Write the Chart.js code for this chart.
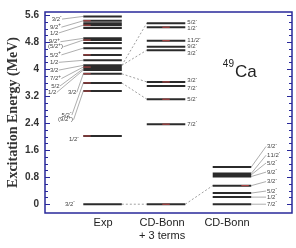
<!DOCTYPE html>
<html>
<head>
<meta charset="utf-8">
<script src="https://cdn.jsdelivr.net/npm/chart.js@4.4.1/dist/chart.umd.min.js"></script>
<style>html,body{margin:0;padding:0;background:#fff}</style>
</head>
<body>
<canvas id="nivelesChart" width="296" height="248"></canvas>
<script>
// Datos del esquema de niveles de 49Ca (MeV)
const columnas = ['Exp', ['CD-Bonn', '+ 3 terms'], 'CD-Bonn'];
const ticksY = [0, 0.8, 1.6, 2.4, 3.2, 4, 4.8, 5.6];

const expNiveles = [0, 2.02, 3.35, 3.59, 3.86, 3.97, 4.01, 4.06, 4.11, 4.26, 4.42, 4.62, 4.77, 4.86, 4.91, 5.22, 5.30, 5.36, 5.43, 5.56];
const expEtiquetas = ['3/2^-', '9/2^+', '1/2', '9/2^+', '(5/2^+)', '5/2^+', '1/2', '3/2', '7/2^+', '5/2', '1/2', '3/2', '5/2^-', '(9/2^+)', '1/2^-', '3/2^-'];
const expEtiquetaY = [5.48, 5.24, 5.07, 4.81, 4.66, 4.42, 4.20, 3.97, 3.72, 3.50, 3.31, 3.31, 2.64, 2.50, 1.92, 0];
const expDestino = [5.56, 5.43, 5.30, 4.91, 4.86, 4.62, 4.26, 4.11, 4.06, 4.01, 3.97, 3.86, 3.59, 3.35, null, null];
const expRojos = [2.02, 3.35, 3.59, 3.86, 4.06, 4.42, 4.86, 5.30, 5.43];

const cd3Niveles = [0, 2.37, 3.11, 3.50, 3.62, 4.56, 4.66, 4.84, 5.24, 5.36];
const cd3Etiquetas = ['', '7/2^-', '5/2^-', '7/2^-', '3/2^-', '3/2^-', '9/2^-', '11/2^-', '1/2^-', '5/2^-'];
const cd3EtiquetaY = [null, 2.37, 3.09, 3.43, 3.66, 4.47, 4.67, 4.84, 5.20, 5.37];
const cd3Rojos = [0, 2.37, 3.11, 3.62, 4.84, 5.24];

const cdNiveles = [0, 0.21, 0.33, 0.55, 0.82, 0.87, 0.91, 1.10];
const cdEtiquetas = ['7/2^-', '1/2^-', '5/2^-', '3/2^-', '9/2^-', '5/2^-', '11/2^-', '3/2^-'];
const cdEtiquetaY = [0, 0.21, 0.39, 0.67, 0.95, 1.22, 1.45, 1.71];
const cdRojos = [0.55];

// Conexiones punteadas [nivel origen, nivel destino]
const conexExpCd3 = [[0, 0], [4.11, 5.36], [4.11, 4.56], [3.86, 3.62], [3.59, 3.11]];
const conexCd3Cd = [[0, 0.55]];

// Geometría (unidades del eje x, 0..10)
const colCentro = [2.33, 4.90, 7.57];
const semiAncho = 0.78;
const posEtiquetasX = [2.35, 4.74, 7.37];
const expEtiquetaX = [0.27, 0.2, 0.2, 0.16, 0.12, 0.2, 0.2, 0.2, 0.2, 0.25, 0.12, 0.93, 0.67, 0.53, 0.97, 0.81];

const izq = i => colCentro[i] - semiAncho;
const der = i => colCentro[i] + semiAncho;

/**
 * Convierte una lista de segmentos [x1, y1, x2, y2] en datos con huecos.
 */
function segmentos(lista) {
  const out = [];
  lista.forEach(([x1, y1, x2, y2]) => {
    out.push({ x: x1, y: y1 }, { x: x2, y: y2 }, { x: x2, y: null });
  });
  return out;
}

const nivelesSeg = [
  ...expNiveles.map(e => [izq(0), e, der(0), e]),
  ...cd3Niveles.map(e => [izq(1), e, der(1), e]),
  ...cdNiveles.map(e => [izq(2), e, der(2), e])
];
const rojosSeg = [
  ...expRojos.map(e => [izq(0), e, izq(0) + 0.3, e]),
  ...cd3Rojos.map(e => [colCentro[1] - 0.15, e, colCentro[1] + 0.15, e]),
  ...cdRojos.map(e => [der(2) - 0.4, e, der(2) - 0.1, e])
];
const conexSeg = [
  ...conexExpCd3.map(([a, b]) => [der(0), a, izq(1), b]),
  ...conexCd3Cd.map(([a, b]) => [der(1), a, izq(2), b])
];

// Dibuja texto con superíndice (^ marca el siguiente carácter)
function dibujarEtiqueta(ctx, texto, px, py) {
  let cx = px;
  for (let i = 0; i < texto.length; i++) {
    if (texto[i] === '^') {
      i++;
      ctx.font = '4.5px "Liberation Sans", Arial, sans-serif';
      ctx.fillText(texto[i], cx, py - 2);
    } else {
      ctx.font = '6px "Liberation Sans", Arial, sans-serif';
      ctx.fillText(texto[i], cx, py);
    }
    cx += ctx.measureText(texto[i]).width;
  }
  return cx - px;
}

const anotaciones = {
  id: 'anotaciones',
  afterDraw(chart) {
    const { ctx, chartArea: a, scales: { x, y } } = chart;
    ctx.save();

    // Marco azul
    ctx.strokeStyle = '#28289a';
    ctx.lineWidth = 1.5;
    ctx.strokeRect(a.left, a.top, a.right - a.left, a.bottom - a.top);

    // Ticks hacia dentro (mayores cada 0.8, menores cada 0.2)
    ctx.lineWidth = 1;
    for (let i = 0; i <= 28; i++) {
      const py = Math.round(y.getPixelForValue(i * 0.2)) + 0.5;
      const largo = i % 4 === 0 ? 5 : 3;
      ctx.beginPath();
      ctx.moveTo(a.left, py); ctx.lineTo(a.left + largo, py);
      ctx.moveTo(a.right, py); ctx.lineTo(a.right - largo, py);
      ctx.stroke();
    }

    ctx.textBaseline = 'middle';
    ctx.textAlign = 'left';
    ctx.fillStyle = '#444';
    ctx.strokeStyle = '#777';
    ctx.lineWidth = 0.6;

    // Etiquetas experimentales con líneas guía
    expEtiquetas.forEach((t, i) => {
      const px = x.getPixelForValue(expEtiquetaX[i]);
      const py = y.getPixelForValue(expEtiquetaY[i]);
      const w = dibujarEtiqueta(ctx, t, px, py);
      if (expDestino[i] !== null) {
        ctx.beginPath();
        ctx.moveTo(px + w + 0.5, py);
        ctx.lineTo(x.getPixelForValue(izq(0)), y.getPixelForValue(expDestino[i]));
        ctx.stroke();
      }
    });

    // Etiquetas CD-Bonn + 3 terms
    cd3Etiquetas.forEach((t, i) => {
      if (!t) return;
      dibujarEtiqueta(ctx, t, x.getPixelForValue(der(1)) + 2, y.getPixelForValue(cd3EtiquetaY[i]));
    });

    // Etiquetas CD-Bonn con líneas guía
    cdEtiquetas.forEach((t, i) => {
      const px = x.getPixelForValue(8.99);
      const py = y.getPixelForValue(cdEtiquetaY[i]);
      dibujarEtiqueta(ctx, t, px, py);
      ctx.beginPath();
      ctx.moveTo(x.getPixelForValue(der(2)), y.getPixelForValue(cdNiveles[i]));
      ctx.lineTo(px - 1, py);
      ctx.stroke();
    });

    // Núcleo
    const nx = x.getPixelForValue(7.2);
    const ny = y.getPixelForValue(3.9);
    ctx.fillStyle = '#222';
    ctx.font = '10px "Liberation Sans", Arial, sans-serif';
    ctx.fillText('49', nx, ny - 8);
    const w49 = ctx.measureText('49').width;
    ctx.font = '17px "Liberation Sans", Arial, sans-serif';
    ctx.fillText('Ca', nx + w49 + 1, ny);

    ctx.restore();
  }
};

new Chart(document.getElementById('nivelesChart').getContext('2d'), {
  type: 'scatter',
  data: {
    datasets: [
      { data: segmentos(rojosSeg), showLine: true, borderColor: '#c04848', borderWidth: 1, pointRadius: 0, spanGaps: false },
      { data: segmentos(nivelesSeg), showLine: true, borderColor: '#2b2b2b', borderWidth: 2, pointRadius: 0, spanGaps: false },
      { data: segmentos(conexSeg), showLine: true, borderColor: '#888', borderWidth: 0.8, borderDash: [2, 2], pointRadius: 0, spanGaps: false }
    ]
  },
  options: {
    responsive: false,
    animation: false,
    devicePixelRatio: 1,
    layout: { padding: { top: 8, right: 4, left: 0, bottom: 0 } },
    plugins: { legend: { display: false }, tooltip: { enabled: false } },
    scales: {
      x: {
        type: 'linear',
        min: 0,
        max: 10,
        grid: { display: false, drawTicks: false },
        border: { display: false },
        afterBuildTicks: ax => { ax.ticks = posEtiquetasX.map(v => ({ value: v })); },
        afterFit: ax => { ax.height = 35; },
        ticks: {
          autoSkip: false,
          maxRotation: 0,
          padding: 3,
          color: '#222',
          font: { family: '"Liberation Sans", Arial, sans-serif', size: 11 },
          callback: (v, i) => columnas[i]
        }
      },
      y: {
        type: 'linear',
        min: -0.26,
        max: 5.69,
        grid: { display: false, drawTicks: false },
        border: { display: false },
        afterBuildTicks: ax => { ax.ticks = ticksY.map(v => ({ value: v })); },
        afterFit: ax => { ax.width = 45; },
        ticks: {
          padding: 6,
          color: '#333',
          font: { family: '"Liberation Sans", Arial, sans-serif', size: 10, weight: 'bold' },
          callback: v => String(+v.toFixed(1))
        },
        title: {
          display: true,
          text: 'Excitation Energy (MeV)',
          color: '#333',
          padding: { top: 5, bottom: 0 },
          font: { family: '"Liberation Serif", "Times New Roman", serif', size: 14, weight: 'bold' }
        }
      }
    }
  },
  plugins: [anotaciones]
});
</script>
</body>
</html>
